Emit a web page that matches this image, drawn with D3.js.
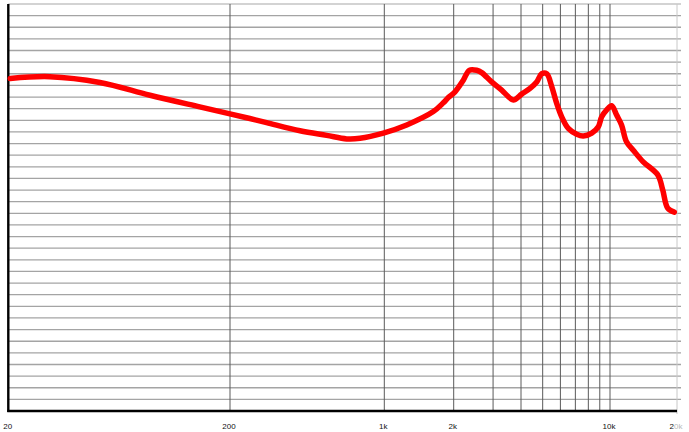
<!DOCTYPE html>
<html>
<head>
<meta charset="utf-8">
<script src="https://cdn.jsdelivr.net/npm/d3@7"></script>
<style>
  html, body { margin: 0; padding: 0; background: #fff; }
  svg { display: block; }
</style>
</head>
<body>
<svg id="chart" width="689" height="432"></svg>
<script>
// ---- data ----
const freqs = [20.4, 30.8, 51.8, 87.1, 146, 200, 246, 293, 415, 548, 676, 776, 990,
  1251, 1632, 1803, 1895, 2027, 2208, 2348, 2534, 2668, 2958, 3278, 3694, 4028, 4389, 4702,
  4950, 5212, 5489, 5776, 6081, 6508, 7098, 7598, 8286, 8868, 9182, 9666, 10175, 10710,
  11270, 11860, 12690, 14060, 16400, 17260, 18160, 19450];
const spl = [87.2, 87.5, 86.5, 84.3, 82.3, 81.1, 80.3, 79.6, 78.2, 77.4, 76.8, 76.9, 77.8,
  79.2, 81.5, 83.0, 83.9, 84.9, 86.9, 88.6, 88.6, 88.2, 86.6, 85.2, 83.5, 84.5, 85.5, 86.6,
  88.0, 88.0, 85.8, 82.9, 80.6, 78.6, 77.6, 77.3, 77.8, 78.9, 80.6, 81.8, 82.5, 80.9,
  79.2, 76.3, 74.9, 72.9, 70.6, 68.0, 64.9, 64.2];
const xGridMinor = [3000, 4000, 5000, 6000, 7000, 8000, 9000];
const xGridMajor = [200, 1000, 2000, 10000];
const xTickValues = [20, 200, 1000, 2000, 10000, 20000];
const xTickLabels = ["20", "200", "1k", "2k", "10k", "20k"];
const yDomain = [30, 100];
const yStep = 2;

// ---- scales ----
const x = d3.scaleLog()
  .domain([20, 200, 1000, 2000, 10000, 20000])
  .range([8.3, 230, 384.3, 453.7, 610, 677]);
const y = d3.scaleLinear().domain(yDomain).range([411, 4]);

const svg = d3.select("#chart");
const x0 = x(20), x1 = x(20000);
const yTop = y(yDomain[1]), yBot = y(yDomain[0]);

// horizontal grid
const yVals = d3.range(yDomain[0] + yStep, yDomain[1] + 0.001, yStep);
svg.append("g").selectAll("line").data(yVals).join("line")
  .attr("x1", x0).attr("x2", x1 + 4)
  .attr("y1", d => y(d)).attr("y2", d => y(d))
  .attr("stroke", d => d === yDomain[1] ? "#c4c4c4" : "#a4a4a4")
  .attr("stroke-width", 1.3);

// vertical grid
svg.append("g").selectAll("line").data(xGridMinor.concat(xGridMajor)).join("line")
  .attr("x1", d => x(d)).attr("x2", d => x(d))
  .attr("y1", yTop).attr("y2", yBot)
  .attr("stroke", "#5a5a5a")
  .attr("stroke-width", 1);

// right edge
svg.append("line")
  .attr("x1", x1).attr("x2", x1).attr("y1", yTop).attr("y2", yBot + 3)
  .attr("stroke", "#c8c8c8").attr("stroke-width", 1);

// axes borders
svg.append("line")
  .attr("x1", x0).attr("x2", x0).attr("y1", yTop).attr("y2", yBot + 1)
  .attr("stroke", "#000").attr("stroke-width", 2.4);
svg.append("line")
  .attr("x1", x0 - 1).attr("x2", x1).attr("y1", yBot).attr("y2", yBot)
  .attr("stroke", "#000").attr("stroke-width", 2.4);

// tick labels
const labels = svg.append("g")
  .attr("font-family", "'Liberation Sans', Arial, sans-serif")
  .attr("font-size", 8)
  .attr("fill", "#111");
xTickValues.forEach((v, i) => {
  const t = labels.append("text")
    .attr("x", i === 0 ? x(v) - 5 : x(v) - 1)
    .attr("y", 429)
    .attr("text-anchor", i === 0 ? "start" : "middle");
  if (xTickLabels[i] === "20k") {
    t.append("tspan").text("2");
    t.append("tspan").attr("fill", "#b8b8b8").text("0k");
  } else {
    t.text(xTickLabels[i]);
  }
});

// curve
const pts = freqs.map((f, i) => [f, spl[i]]);
const line = d3.line()
  .x(d => x(d[0]))
  .y(d => y(d[1]))
  .curve(d3.curveCatmullRom.alpha(0.5));
svg.append("path")
  .datum(pts)
  .attr("d", line)
  .attr("fill", "none")
  .attr("stroke", "#ff0000")
  .attr("stroke-width", 5.5)
  .attr("stroke-linejoin", "round")
  .attr("stroke-linecap", "round");
</script>
</body>
</html>
